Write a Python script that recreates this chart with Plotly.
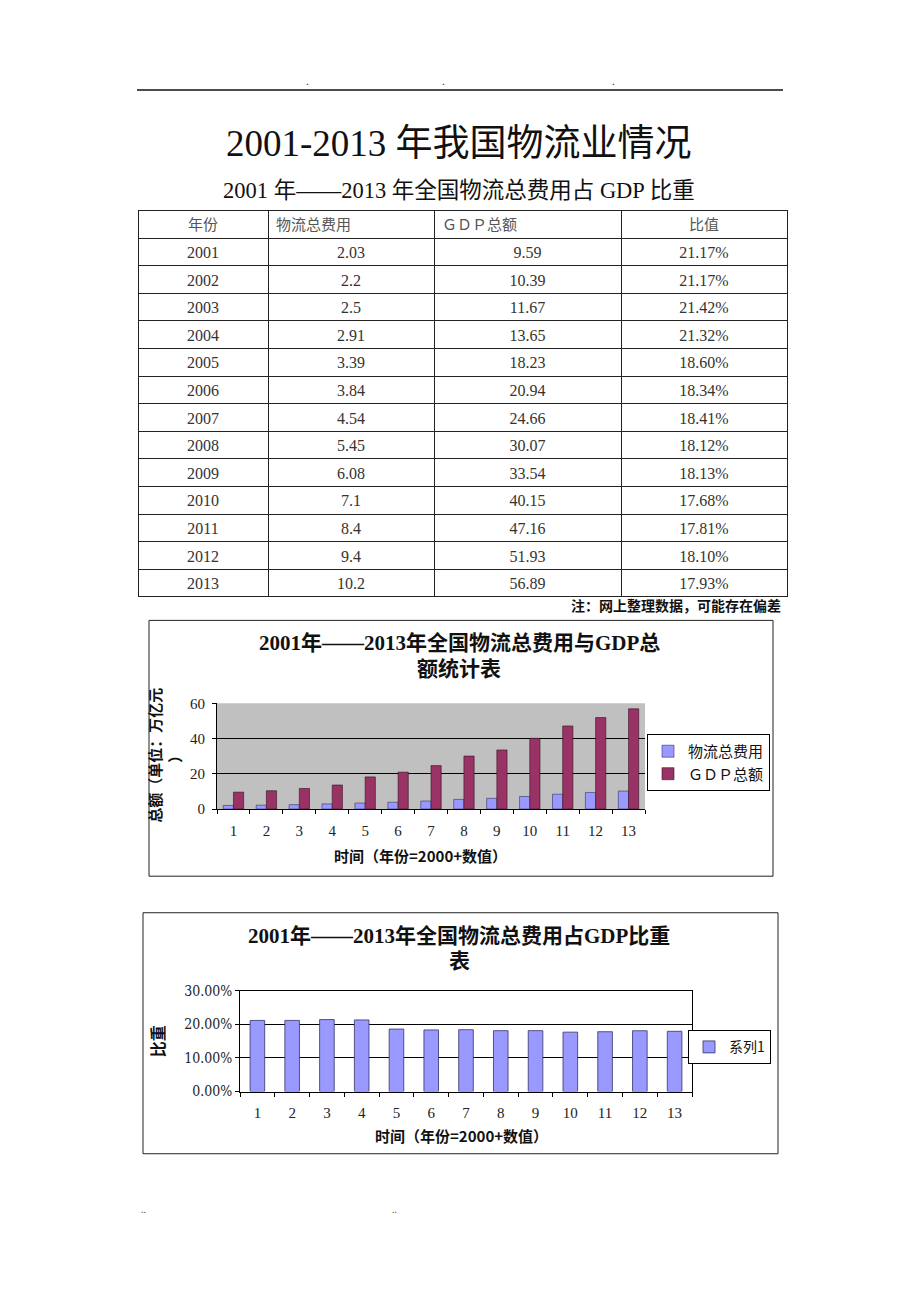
import plotly.graph_objects as go

# ---------------- data ----------------
years = [2001, 2002, 2003, 2004, 2005, 2006, 2007, 2008, 2009, 2010, 2011, 2012, 2013]
logistics_cost = [2.03, 2.2, 2.5, 2.91, 3.39, 3.84, 4.54, 5.45, 6.08, 7.1, 8.4, 9.4, 10.2]
gdp_total = [9.59, 10.39, 11.67, 13.65, 18.23, 20.94, 24.66, 30.07, 33.54, 40.15, 47.16, 51.93, 56.89]
ratio_pct = [21.17, 21.17, 21.42, 21.32, 18.60, 18.34, 18.41, 18.12, 18.13, 17.68, 17.81, 18.10, 17.93]
categories = [str(y - 2000) for y in years]
table_header = ["年份", "物流总费用", "ＧＤＰ总额", "比值"]
series1_name = "物流总费用"
series2_name = "ＧＤＰ总额"
series3_name = "系列1"

W, H = 920, 1302
def px(x): return x / W
def py(y): return 1 - y / H

SERIF = "Liberation Serif, Noto Sans CJK SC, serif"
CJK = "Noto Sans CJK SC, Liberation Serif, sans-serif"
BLUE = "#9999FF"
MAROON = "#993366"

fig = go.Figure()

# ---------------- table ----------------
fig.add_trace(go.Table(
    domain=dict(x=[px(138), px(787)], y=[py(606), py(205)]),
    columnwidth=[130, 166, 187, 166],
    header=dict(values=table_header,
                align=["center", "left", "left", "center"],
                line=dict(color="#222", width=1),
                fill=dict(color="white"),
                font=dict(family=CJK, size=15, color="#555"),
                height=27.6),
    cells=dict(values=[[str(y) for y in years],
                       [str(v) for v in logistics_cost],
                       [str(v) for v in gdp_total],
                       ["%.2f%%" % v for v in ratio_pct]],
               align="center",
               line=dict(color="#222", width=1),
               fill=dict(color="white"),
               font=dict(family=SERIF, size=16, color="#333"),
               height=27.6),
))

# ---------------- chart 1 ----------------
fig.add_trace(go.Bar(x=categories, y=logistics_cost, name=series1_name,
                     marker=dict(color=BLUE, line=dict(color="#333366", width=0.6)),
                     xaxis="x", yaxis="y", legend="legend"))
fig.add_trace(go.Bar(x=categories, y=gdp_total, name=series2_name,
                     marker=dict(color=MAROON, line=dict(color="#331122", width=0.6)),
                     xaxis="x", yaxis="y", legend="legend"))

# ---------------- chart 2 ----------------
fig.add_trace(go.Bar(x=categories, y=[v / 100 for v in ratio_pct], name=series3_name,
                     marker=dict(color=BLUE, line=dict(color="#333366", width=0.8)),
                     width=0.42,
                     xaxis="x2", yaxis="y2", legend="legend2"))

axis_font = dict(family=SERIF, size=15, color="#222")

fig.update_layout(
    width=W, height=H,
    margin=dict(l=0, r=0, t=0, b=0),
    paper_bgcolor="white",
    plot_bgcolor="rgba(0,0,0,0)",
    barmode="group",
    bargap=0.38,
    bargroupgap=0.0,
    xaxis=dict(domain=[px(217), px(645)], anchor="y", type="category",
               showline=True, linecolor="#000", linewidth=1,
               ticks="outside", tickson="boundaries", ticklen=4, tickcolor="#000",
               ticklabelstandoff=8,
               tickfont=axis_font, showgrid=False, fixedrange=True),
    yaxis=dict(domain=[py(811), py(704)], anchor="x", range=[0, 60], dtick=20,
               showline=True, linecolor="#000", linewidth=1,
               ticks="outside", ticklen=4, tickcolor="#000",
               ticklabelstandoff=4,
               tickfont=axis_font, showgrid=True, gridcolor="#000", gridwidth=1,
               zeroline=False, fixedrange=True),
    xaxis2=dict(domain=[px(240), px(692)], anchor="y2", type="category",
                showline=True, linecolor="#000", linewidth=1, mirror=True,
                ticks="outside", tickson="boundaries", ticklen=4, tickcolor="#000",
                ticklabelstandoff=7,
                tickfont=axis_font, showgrid=False, fixedrange=True),
    yaxis2=dict(domain=[py(1097), py(995)], anchor="x2", range=[0, 0.30], dtick=0.10,
                tickformat=".2%",
                showline=True, linecolor="#000", linewidth=1, mirror=True,
                ticks="outside", ticklen=4, tickcolor="#000",
                tickfont=dict(family="DejaVu Serif Condensed, serif", size=14, color="#222"),
                showgrid=True, gridcolor="#000", gridwidth=1,
                zeroline=False, fixedrange=True),
    legend=dict(x=px(647), y=py(735), xanchor="left", yanchor="top",
                bgcolor="white", bordercolor="#000", borderwidth=1,
                font=dict(family=CJK, size=15, color="#111"),
                itemwidth=30, tracegroupgap=0, traceorder="normal"),
    legend2=dict(x=px(771), y=py(1035), xanchor="right", yanchor="top",
                 bgcolor="white", bordercolor="#000", borderwidth=1,
                 font=dict(family=CJK, size=14, color="#111"),
                 itemwidth=30),
    showlegend=True,
)

shapes = [
    # header rule
    dict(type="line", xref="paper", yref="paper", x0=px(137), x1=px(783), y0=py(83), y1=py(83),
         line=dict(color="#111", width=1.5)),
    # chart frames
    dict(type="rect", xref="paper", yref="paper", x0=px(149), x1=px(773), y0=py(620), y1=py(879),
         line=dict(color="#222", width=1)),
    dict(type="rect", xref="paper", yref="paper", x0=px(143), x1=px(778), y0=py(916), y1=py(1160),
         line=dict(color="#222", width=1)),
    # grey plot area for chart 1
    dict(type="rect", xref="x domain", yref="y domain", x0=0, x1=1, y0=0, y1=1,
         fillcolor="#C0C0C0", line=dict(width=0), layer="below"),
]
fig.update_layout(shapes=shapes)

ann = []
def text(x, y, t, size, family=CJK, color="#111", xanchor="center", angle=0, bold=False):
    ann.append(dict(xref="paper", yref="paper", x=px(x), y=py(y), text=("<b>%s</b>" % t) if bold else t,
                    showarrow=False, xanchor=xanchor, yanchor="middle", textangle=angle,
                    font=dict(family=family, size=size, color=color)))

for dx in (307, 443, 613):
    text(dx, 73, ".", 10)
for dx in (143, 394):
    text(dx, 1216, "..", 9, color="#555")

text(459, 137, "2001-2013 年我国物流业情况", 37, family=SERIF)
text(459, 185, "2001 年——2013 年全国物流总费用占 GDP 比重", 22.5, family=SERIF)
text(783, 604, "注：网上整理数据，可能存在偏差", 14, xanchor="right", bold=True)

# chart 1 texts
text(459, 643, "2001年——2013年全国物流总费用与GDP总", 21, family=SERIF, bold=True)
text(459, 669, "额统计表", 21, family=SERIF, bold=True)
text(420, 858, "时间（年份=2000+数值）", 15, bold=True)
text(165, 757, "总额（单位：万亿元<br>）", 15, angle=-90, bold=True)

# chart 2 texts
text(459, 940, "2001年——2013年全国物流总费用占GDP比重", 21, family=SERIF, bold=True)
text(459, 965, "表", 21, family=SERIF, bold=True)
text(461, 1142, "时间（年份=2000+数值）", 15, bold=True)
text(157, 1046, "比重", 16, angle=-90, bold=True)

fig.update_layout(annotations=ann)

fig.write_html("out.html")
